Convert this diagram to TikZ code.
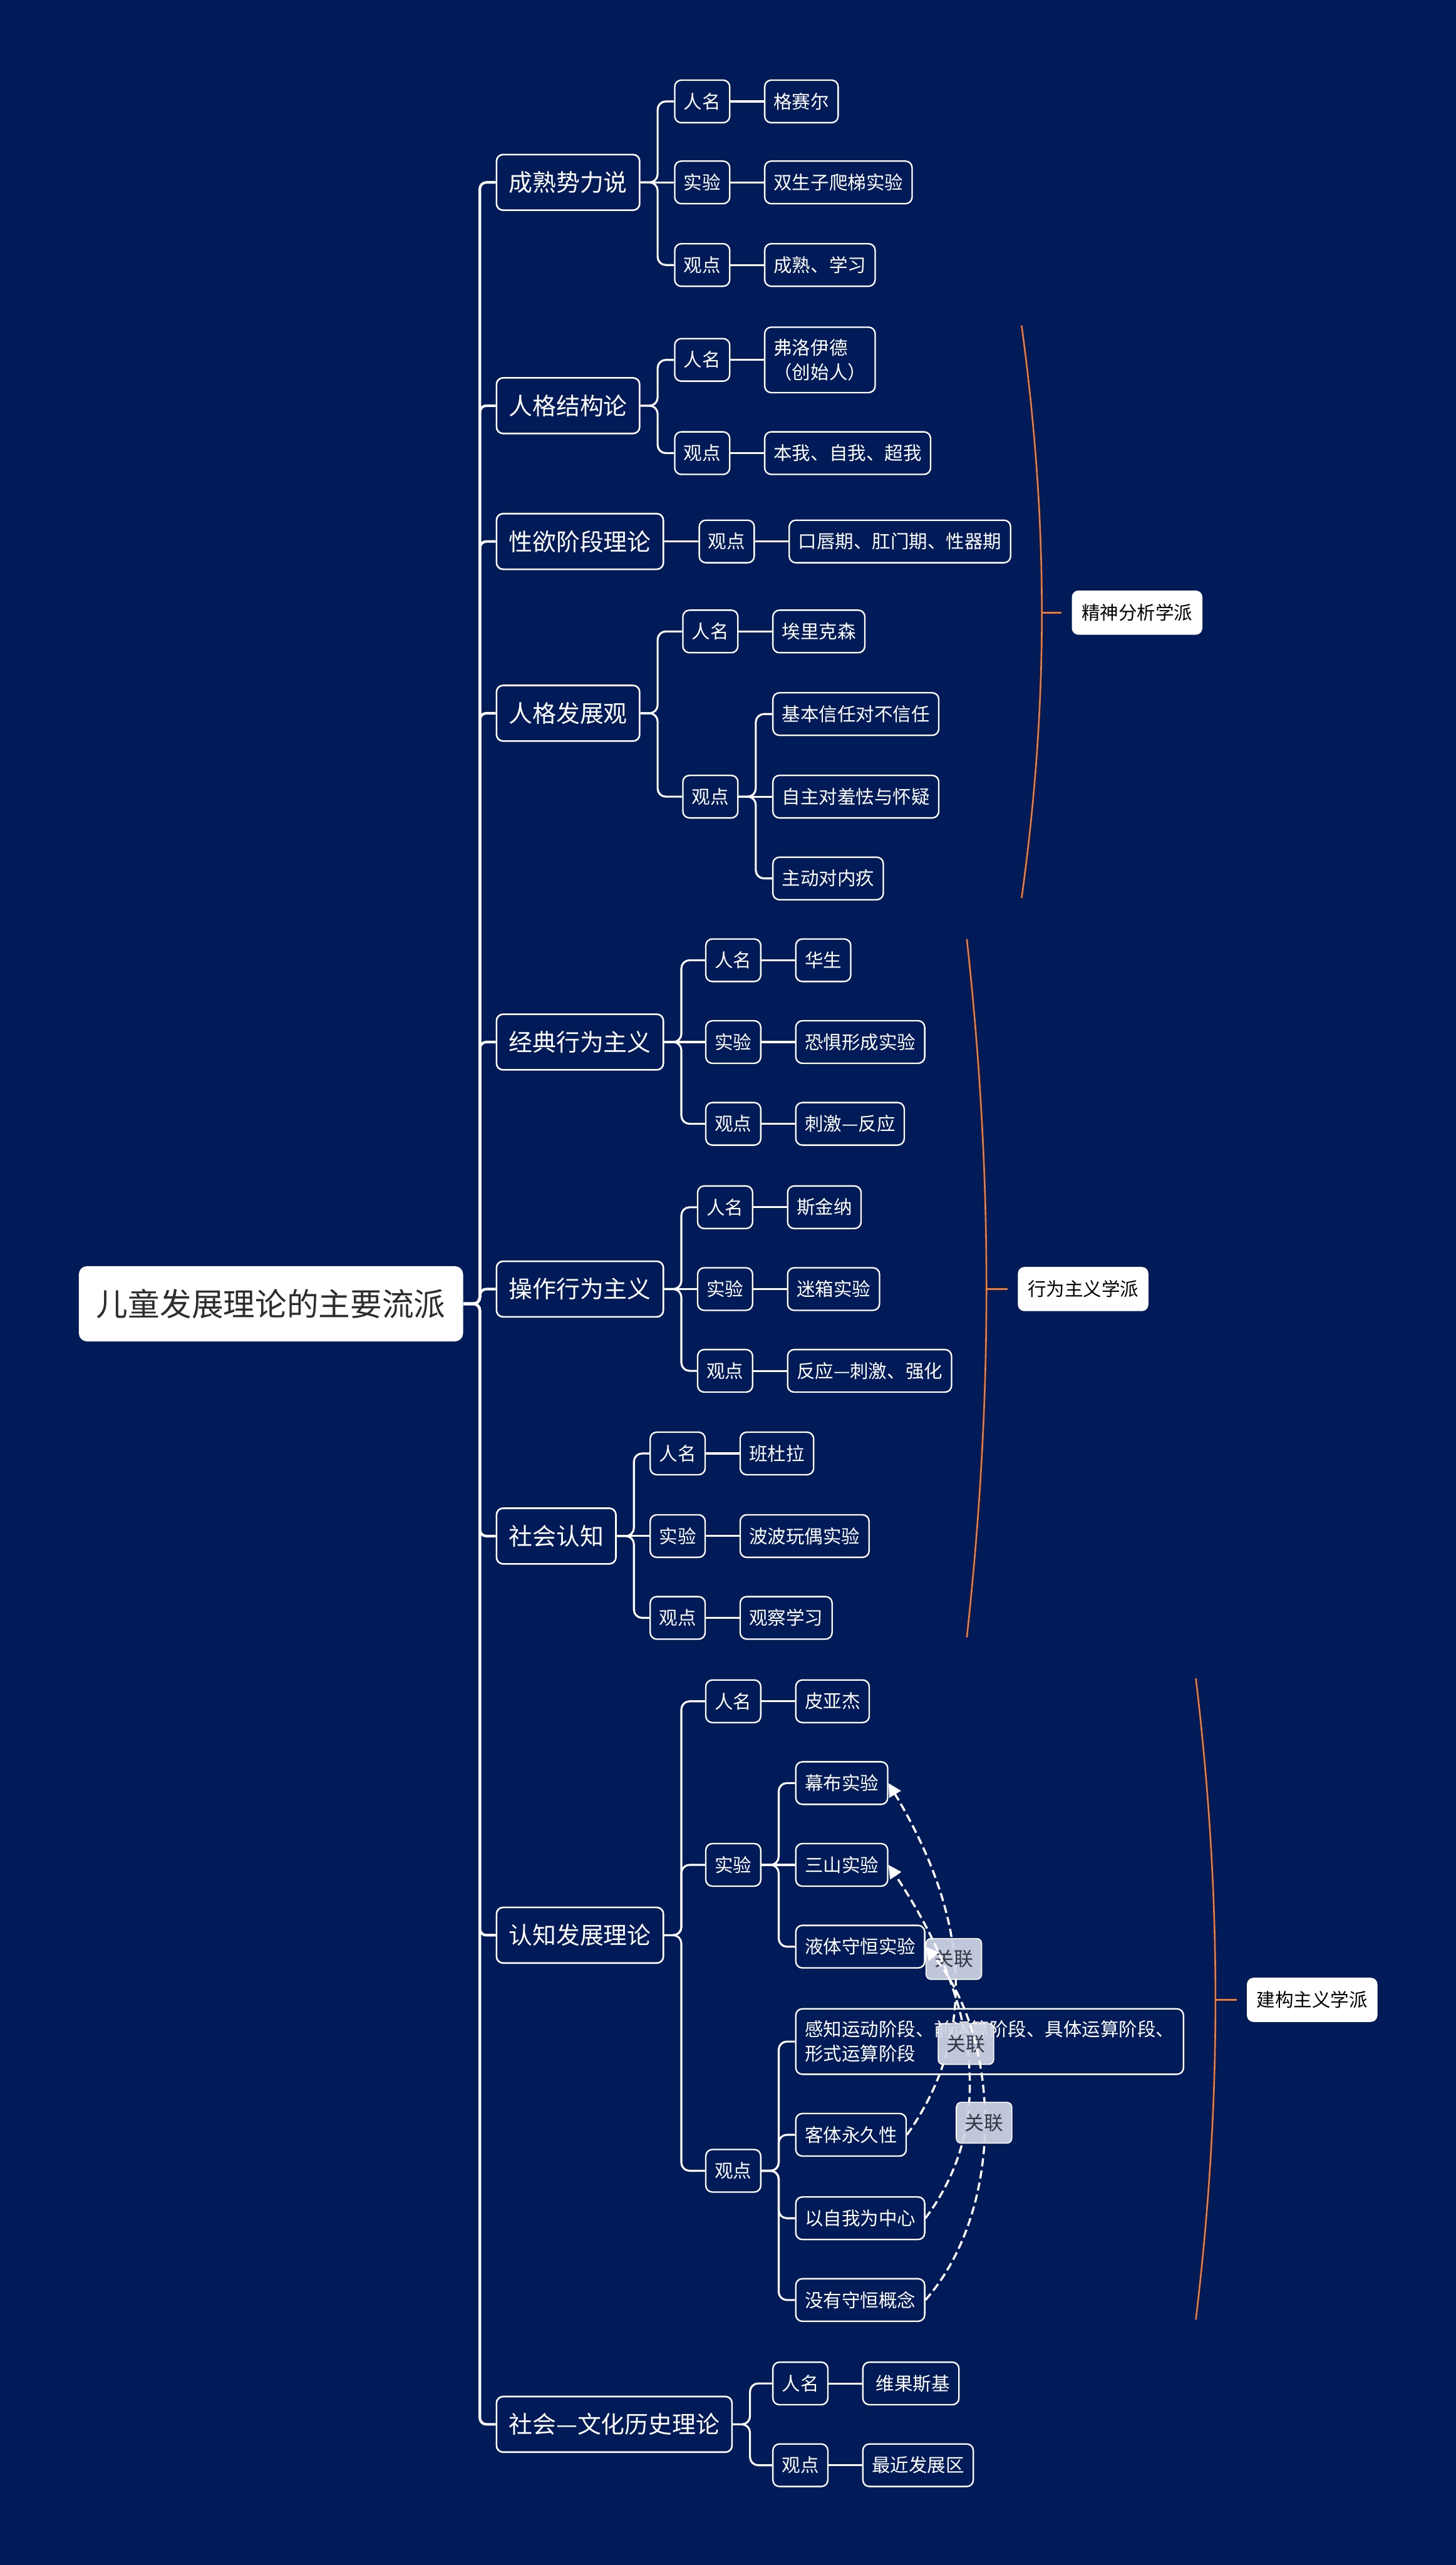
\documentclass[tikz,border=0pt]{standalone}
\usepackage{fontspec}
\setmainfont{Noto Sans CJK SC}
\usetikzlibrary{arrows.meta}
\definecolor{bg}{RGB}{0,27,88}
\definecolor{orangeline}{RGB}{238,122,52}
\definecolor{relfill}{RGB}{208,213,228}
\definecolor{reltext}{RGB}{50,55,70}
\definecolor{roottext}{RGB}{45,45,45}
\newcommand\mmelbow[3]{\draw[#1] (#2.east) -- ++(10.5,0) |- (#3.west);}
\newcommand\mmline[3]{\draw[#1] (#2.east) -- (#3.west);}
\begin{document}
\begin{tikzpicture}[x=1pt,y=-1pt,
  root/.style={fill=white, text=roottext, rounded corners=5pt, minimum height=46pt, inner xsep=10.75pt, inner ysep=0pt, anchor=west, font=\fontsize{19.4}{24}\selectfont},
  lone/.style={draw=white, line width=1pt, fill=bg, text=white, rounded corners=4pt, minimum height=34pt, inner xsep=7.5pt, inner ysep=0pt, anchor=west, font=\fontsize{14.5}{18}\selectfont},
  ltwo/.style={draw=white, line width=0.9pt, fill=bg, text=white, rounded corners=4pt, minimum height=26pt, inner xsep=5.5pt, inner ysep=0pt, anchor=west, font=\fontsize{11.3}{15}\selectfont},
  lthree/.style={ltwo},
  multi/.style={ltwo, align=left, minimum height=40pt},
  school/.style={fill=white, text=black, rounded corners=4pt, minimum height=27pt, inner xsep=6pt, inner ysep=0pt, anchor=west, font=\fontsize{11.3}{15}\selectfont},
  rel/.style={solid, fill=relfill, fill opacity=0.93, text opacity=1, draw=white, line width=0.6pt, text=reltext, rounded corners=3pt, minimum height=25pt, minimum width=34pt, inner xsep=4pt, inner ysep=0pt, font=\fontsize{11.8}{15}\selectfont},
  trunk/.style={draw=white, line width=1.6pt, rounded corners=4pt},
  conn/.style={draw=white, line width=1.2pt, rounded corners=5pt},
  brace/.style={draw=orangeline, line width=1pt},
  tick/.style={draw=orangeline, line width=1.3pt},
  link/.style={draw=white, line width=1.3pt, dash pattern=on 5pt off 2.5pt, -{Triangle[width=8pt,length=8pt]}}
]
\fill[bg] (0,0) rectangle (890,1568);
\useasboundingbox (0,0) rectangle (890,1568);

% root
\node[root] (root) at (48,797) {儿童发展理论的主要流派};

% branch 1
\node[lone] (b1) at (303,111.5) {成熟势力说};
\node[ltwo] (b1a) at (412,62) {人名};
\node[ltwo] (b1b) at (412,111.5) {实验};
\node[ltwo] (b1c) at (412,162) {观点};
\node[lthree] (b1a1) at (467,62) {格赛尔};
\node[lthree] (b1b1) at (467,111.5) {双生子爬梯实验};
\node[lthree] (b1c1) at (467,162) {成熟、学习};

% branch 2
\node[lone] (b2) at (303,248) {人格结构论};
\node[ltwo] (b2a) at (412,220) {人名};
\node[ltwo] (b2b) at (412,277) {观点};
\node[multi] (b2a1) at (467,220) {弗洛伊德\\（创始人）};
\node[lthree] (b2b1) at (467,277) {本我、自我、超我};

% branch 3
\node[lone] (b3) at (303,331) {性欲阶段理论};
\node[ltwo] (b3a) at (427,331) {观点};
\node[lthree] (b3a1) at (482,331) {口唇期、肛门期、性器期};

% branch 4
\node[lone] (b4) at (303,436) {人格发展观};
\node[ltwo] (b4a) at (417,386) {人名};
\node[ltwo] (b4b) at (417,487) {观点};
\node[lthree] (b4a1) at (472,386) {埃里克森};
\node[lthree] (b4b1) at (472,436.5) {基本信任对不信任};
\node[lthree] (b4b2) at (472,487) {自主对羞怯与怀疑};
\node[lthree] (b4b3) at (472,537) {主动对内疚};

% branch 5
\node[lone] (b5) at (303,637) {经典行为主义};
\node[ltwo] (b5a) at (431,587) {人名};
\node[ltwo] (b5b) at (431,637) {实验};
\node[ltwo] (b5c) at (431,687) {观点};
\node[lthree] (b5a1) at (486,587) {华生};
\node[lthree] (b5b1) at (486,637) {恐惧形成实验};
\node[lthree] (b5c1) at (486,687) {刺激—反应};

% branch 6
\node[lone] (b6) at (303,788) {操作行为主义};
\node[ltwo] (b6a) at (426,738) {人名};
\node[ltwo] (b6b) at (426,788) {实验};
\node[ltwo] (b6c) at (426,838) {观点};
\node[lthree] (b6a1) at (481,738) {斯金纳};
\node[lthree] (b6b1) at (481,788) {迷箱实验};
\node[lthree] (b6c1) at (481,838) {反应—刺激、强化};

% branch 7
\node[lone] (b7) at (303,939) {社会认知};
\node[ltwo] (b7a) at (397,888.5) {人名};
\node[ltwo] (b7b) at (397,939) {实验};
\node[ltwo] (b7c) at (397,989) {观点};
\node[lthree] (b7a1) at (452,888.5) {班杜拉};
\node[lthree] (b7b1) at (452,939) {波波玩偶实验};
\node[lthree] (b7c1) at (452,989) {观察学习};

% branch 8
\node[lone] (b8) at (303,1183) {认知发展理论};
\node[ltwo] (b8a) at (431,1040) {人名};
\node[ltwo] (b8b) at (431,1140) {实验};
\node[ltwo] (b8c) at (431,1327) {观点};
\node[lthree] (b8a1) at (486,1040) {皮亚杰};
\node[lthree] (b8b1) at (486,1090) {幕布实验};
\node[lthree] (b8b2) at (486,1140) {三山实验};
\node[lthree] (b8b3) at (486,1190) {液体守恒实验};
\node[multi] (b8c1) at (486,1248) {感知运动阶段、前运算阶段、具体运算阶段、\\形式运算阶段};
\node[lthree] (b8c2) at (486,1305) {客体永久性};
\node[lthree] (b8c3) at (486,1356) {以自我为中心};
\node[lthree] (b8c4) at (486,1406) {没有守恒概念};

% branch 9
\node[lone] (b9) at (303,1482) {社会—文化历史理论};
\node[ltwo] (b9a) at (472,1457) {人名};
\node[ltwo] (b9b) at (472,1507) {观点};
\node[lthree] (b9a1) at (527,1457) {\ 维果斯基};
\node[lthree] (b9b1) at (527,1507) {最近发展区};

% trunk
\foreach \b in {b1,b2,b3,b4,b5,b6,b7,b8,b9}{
  \draw[trunk] (root.east) -- ++(10,0) |- (\b.west);
}

% level 1 -> level 2
\mmelbow{conn}{b1}{b1a}
\mmline{conn}{b1}{b1b}
\mmelbow{conn}{b1}{b1c}
\mmelbow{conn}{b2}{b2a}
\mmelbow{conn}{b2}{b2b}
\mmline{conn}{b3}{b3a}
\mmelbow{conn}{b4}{b4a}
\mmelbow{conn}{b4}{b4b}
\mmelbow{conn}{b5}{b5a}
\mmline{conn}{b5}{b5b}
\mmelbow{conn}{b5}{b5c}
\mmelbow{conn}{b6}{b6a}
\mmline{conn}{b6}{b6b}
\mmelbow{conn}{b6}{b6c}
\mmelbow{conn}{b7}{b7a}
\mmline{conn}{b7}{b7b}
\mmelbow{conn}{b7}{b7c}
\mmelbow{conn}{b8}{b8a}
\mmelbow{conn}{b8}{b8b}
\mmelbow{conn}{b8}{b8c}
\mmelbow{conn}{b9}{b9a}
\mmelbow{conn}{b9}{b9b}

% level 2 -> level 3
\mmline{conn}{b1a}{b1a1}
\mmline{conn}{b1b}{b1b1}
\mmline{conn}{b1c}{b1c1}
\mmline{conn}{b2a}{b2a1}
\mmline{conn}{b2b}{b2b1}
\mmline{conn}{b3a}{b3a1}
\mmline{conn}{b4a}{b4a1}
\mmelbow{conn}{b4b}{b4b1}
\mmline{conn}{b4b}{b4b2}
\mmelbow{conn}{b4b}{b4b3}
\mmline{conn}{b5a}{b5a1}
\mmline{conn}{b5b}{b5b1}
\mmline{conn}{b5c}{b5c1}
\mmline{conn}{b6a}{b6a1}
\mmline{conn}{b6b}{b6b1}
\mmline{conn}{b6c}{b6c1}
\mmline{conn}{b7a}{b7a1}
\mmline{conn}{b7b}{b7b1}
\mmline{conn}{b7c}{b7c1}
\mmline{conn}{b8a}{b8a1}
\mmelbow{conn}{b8b}{b8b1}
\mmline{conn}{b8b}{b8b2}
\mmelbow{conn}{b8b}{b8b3}
\mmelbow{conn}{b8c}{b8c1}
\mmelbow{conn}{b8c}{b8c2}
\mmelbow{conn}{b8c}{b8c3}
\mmelbow{conn}{b8c}{b8c4}
\mmline{conn}{b9a}{b9a1}
\mmline{conn}{b9b}{b9b1}

% school brackets
\coordinate (s1top) at (624.5,199);
\coordinate (s1bot) at (624.5,549);
\coordinate (s1mid) at (637,374.5);
\node[school] (s1) at (655,374.5) {精神分析学派};
\draw[brace] (s1top) .. controls (641,320) and (641,430) .. (s1bot);
\draw[tick] (s1mid) -- (s1.west -| 649,0);

\coordinate (s2top) at (591,574);
\coordinate (s2bot) at (591,1001);
\coordinate (s2mid) at (603,788);
\node[school] (s2) at (622,788) {行为主义学派};
\draw[brace] (s2top) .. controls (607,720) and (607,855) .. (s2bot);
\draw[tick] (s2mid) -- (s2.west -| 616,0);

\coordinate (s3top) at (731,1026);
\coordinate (s3bot) at (731,1418);
\coordinate (s3mid) at (743,1222.5);
\node[school] (s3) at (762,1222.5) {建构主义学派};
\draw[brace] (s3top) .. controls (747,1160) and (747,1285) .. (s3bot);
\draw[tick] (s3mid) -- (s3.west -| 756,0);

% relation links
\draw[link] (b8c2.east) .. controls (604,1235) and (585,1160) .. (b8b1.east) node[rel,pos=0.5] (r1) {关联};
\draw[link] (b8c3.east) .. controls (615,1290) and (590,1210) .. (b8b2.east) node[rel,pos=0.5] (r2) {关联};
\draw[link] (b8c4.east) .. controls (615,1350) and (612,1245) .. (b8b3.east) node[rel,pos=0.5] (r3) {关联};
\end{tikzpicture}
\end{document}
